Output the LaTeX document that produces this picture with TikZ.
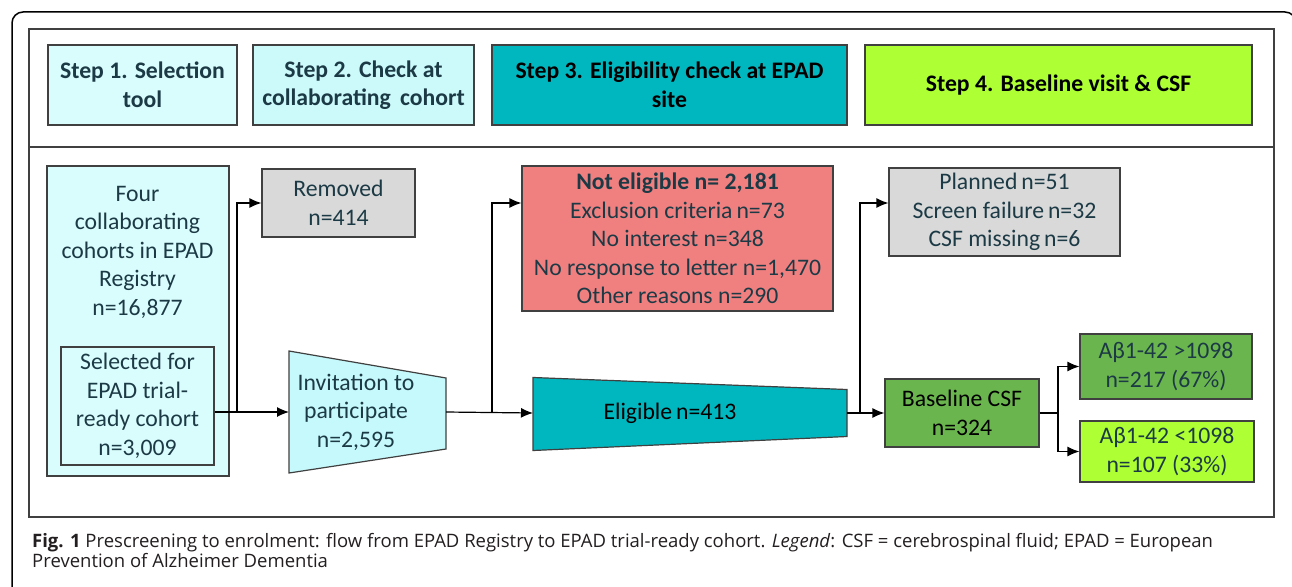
\documentclass[tikz,border=0pt]{standalone}
\usepackage{fontspec}
\setmainfont{Carlito}
\newfontfamily\capfont{Open Sans}
\usetikzlibrary{arrows.meta,calc}
\definecolor{txt}{HTML}{1C3A45}
\definecolor{edge}{HTML}{404040}
\definecolor{cyanA}{HTML}{D9FDFD}
\definecolor{cyanB}{HTML}{CCFAFB}
\definecolor{cyanC}{HTML}{C6F9FB}
\definecolor{teal}{HTML}{00B7C0}
\definecolor{ygreen}{HTML}{AEFF33}
\definecolor{coral}{HTML}{F08080}
\definecolor{grayb}{HTML}{D9D9D9}
\definecolor{greenb}{HTML}{6BB54E}
\definecolor{captxt}{HTML}{231F20}
\tikzset{
  box/.style={draw=edge, line width=1.2pt, inner sep=0pt, align=center, text=txt,
    font=\fontsize{23.7}{28.5}\selectfont},
  hdr/.style={box, font=\fontsize{23.7}{28.5}\selectfont\bfseries},
  lbl/.style={inner sep=0pt, align=center, text=txt, font=\fontsize{23.7}{28.5}\selectfont},
  ghost/.style={inner sep=0pt, outer sep=0pt, draw=none},
  arr/.style={draw=black, line width=1.2pt, -{Latex[length=12pt,width=10pt]}},
  conn/.style={draw=black, line width=1.2pt},
}
\begin{document}
\begin{tikzpicture}[x=1pt,y=-1pt]
\useasboundingbox (0,0) rectangle (1292,586);
\fill[white] (0,0) rectangle (1292,586);
% outer frame
\draw[line width=1.5pt, black, rounded corners=11pt] (12,12) rectangle (1296,650);
% inner frame
\draw[edge, line width=1.2pt] (29,29) rectangle (1274,517);
\draw[edge, line width=1.2pt] (29,147) -- (1274,147);

% header
\node[hdr, fill=cyanA, minimum width=189, minimum height=80] (s1) at (142.5,85) {Step 1. Selection\\tool};
\node[hdr, fill=cyanB, minimum width=221, minimum height=80] (s2) at (363.5,85) {Step 2. Check at\\collaborating\, cohort};
\node[hdr, fill=teal, text=black, minimum width=355, minimum height=80] (s3) at (669.5,85) {Step 3. Eligibility check at EPAD\\site};
\node[hdr, fill=ygreen, text=black, minimum width=387, minimum height=80] (s4) at (1058.5,85) {Step 4. Baseline visit \& CSF};

% column 1
\node[box, fill=cyanA, minimum width=182, minimum height=310] (four) at (138,321) {};
\node[lbl] (fourt) at (137.5,252) {Four\\collaborating\\cohorts in EPAD\\Registry\\n=16,877};
\node[box, fill=cyanA, minimum width=153, minimum height=118] (sel) at (137.5,406) {Selected for\\EPAD trial-\\ready cohort\\n=3,009};

\node[box, fill=grayb, minimum width=153, minimum height=68] (rem) at (338.5,203) {Removed\\n=414};

% invitation trapezoid
\node[ghost, minimum width=157, minimum height=122] (inv) at (367.5,412) {};
\fill[cyanC, draw=edge, line width=1.2pt] (inv.north west) -- ($(inv.north east)+(0,27)$) -- ($(inv.south east)+(0,-24)$) -- (inv.south west) -- cycle;
\node[lbl] (invt) at (356,412) {Invitation to\\participate\\n=2,595};

% not eligible
\node[box, fill=coral, minimum width=311, minimum height=145] (notel) at (677.5,238.5) {\textbf{Not eligible n= 2,181}\\Exclusion criteria\,n=73\\No interest n=348\\No response to letter n=1,470\\Other reasons n=290};

% eligible trapezoid
\node[ghost, minimum width=314, minimum height=73] (elig) at (690,414) {};
\fill[teal, draw=edge, line width=1.2pt] (elig.north west) -- ($(elig.north east)+(0,12)$) -- ($(elig.south east)+(0,-14)$) -- (elig.south west) -- cycle;
\node[lbl, text=black] (eligt) at (670,413) {Eligible\,n=413};

% step 4
\node[box, fill=grayb, minimum width=231, minimum height=88] (plan) at (1004.5,212) {Planned\,n=51\\Screen failure\,n=32\\CSF missing\,n=6};
\node[box, fill=greenb, text=black, minimum width=154, minimum height=68] (base) at (962,413) {Baseline CSF\\n=324};
\node[box, fill=greenb, minimum width=172, minimum height=65] (ab1) at (1166,366.5) {Aβ1-42 >1098\\n=217 (67\%)};
\node[box, fill=ygreen, minimum width=174, minimum height=61] (ab2) at (1167,451.5) {Aβ1-42 <1098\\n=107 (33\%)};

% connectors
\coordinate (b1) at (237,412);
\coordinate (b2) at (492,412);
\coordinate (b3) at (860,413);
\coordinate (b4) at (1058,413);
\draw[arr] (sel.east |- inv.west) -- (inv.west);
\draw[arr] (b1) |- (rem.west);
\draw[arr] ($(inv.east)+(0,0)$) -- (elig.west |- eligt);
\draw[arr] (b2) |- (notel.west |- rem.west);
\draw[arr] (elig.east |- eligt) -- (base.west);
\draw[arr] (b3) |- (plan.west |- rem.west);
\draw[conn] (base.east) -- (b4);
\draw[arr] (b4) |- (ab1.west);
\draw[arr] (b4) |- (ab2.west);

% caption
\node[anchor=base west, inner sep=0pt, align=left, text=captxt, font=\capfont\fontsize{18.5}{19.5}\selectfont] (cap) at (32,567)
 {\textbf{Fig. 1} Prescreening to enrolment: flow from EPAD Registry to EPAD trial-ready cohort. \textit{Legend}: CSF = cerebrospinal fluid; EPAD = European\\Prevention of Alzheimer Dementia};
\end{tikzpicture}
\end{document}
